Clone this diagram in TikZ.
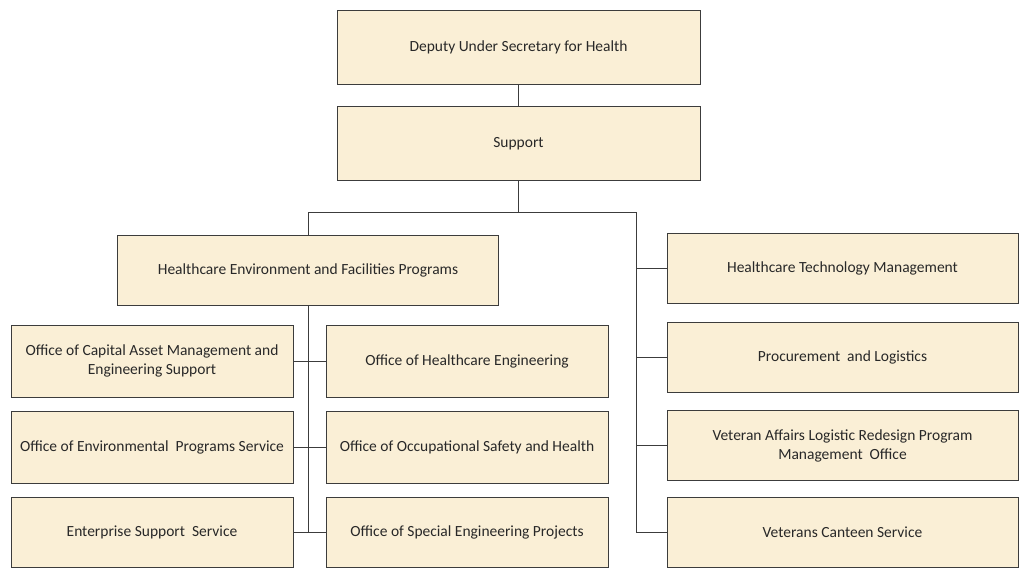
\documentclass[tikz,border=0pt]{standalone}
\usepackage{fontspec}
\setmainfont{Carlito}
\definecolor{boxfill}{RGB}{250,239,214}
\definecolor{boxline}{RGB}{60,60,60}
\definecolor{boxtext}{RGB}{40,40,40}
\tikzset{
  unit/.style={draw=boxline, fill=boxfill, line width=1pt, align=center, inner sep=0pt,
    text=boxtext, font=\fontsize{15.5}{19}\selectfont},
  head/.style={unit, minimum width=363pt, minimum height=74pt},
  wing/.style={unit, minimum width=282pt, minimum height=72pt},
  service/.style={unit, minimum width=351pt, minimum height=70pt},
  link/.style={draw=boxline, line width=1pt}
}
\begin{document}
\begin{tikzpicture}[x=1pt,y=-1pt]
        \useasboundingbox (0,0) rectangle (1019,568);
        % top of the chart
        \node[head] (dush) at (518.5,47) {Deputy Under Secretary for Health};
        \node[head] (support) at (518.5,143.5) {Support};
        \node[unit, minimum width=381pt, minimum height=70pt] (hefp) at (308,270)
            {Healthcare Environment and Facilities Programs};
        % left and middle columns
        \node[wing] (ocam) at (152,361) {Office of Capital Asset Management and\\Engineering Support};
        \node[wing] (oeps) at (152,447) {Office of Environmental~ Programs Service};
        \node[wing, minimum height=70pt] (ess) at (152,532) {Enterprise Support~ Service};
        \node[wing] (ohe) at (467,361) {Office of Healthcare Engineering};
        \node[wing] (oosh) at (467,447) {Office of Occupational Safety and Health};
        \node[wing, minimum height=70pt] (osep) at (467,532) {Office of Special Engineering Projects};
        % right column
        \node[service] (htm) at (842.5,268.5) {Healthcare Technology Management};
        \node[service] (pal) at (842.5,357) {Procurement~ and Logistics};
        \node[service] (valr) at (842.5,445.5) {Veteran Affairs Logistic Redesign Program\\Management~ Office};
        \node[service] (vcs) at (842.5,532) {Veterans Canteen Service};
        % connectors
        \coordinate (split) at (support.south |- 0,212);
        \coordinate (rtrunk) at (636,212);
        \draw[link] (dush) -- (support);
        \draw[link] (support) -- (split);
        \draw[link] (split) -| (hefp.north);
        \draw[link] (split) -- (rtrunk) |- (vcs.west);
        \foreach \n in {htm,pal,valr}
            \draw[link] (rtrunk |- \n.west) -- (\n.west);
        \draw[link] (hefp.south) -- (hefp.south |- ess.east);
        \draw[link] (ocam) -- (ohe);
        \draw[link] (oeps) -- (oosh);
        \draw[link] (ess) -- (osep);
    \end{tikzpicture}
\end{document}
